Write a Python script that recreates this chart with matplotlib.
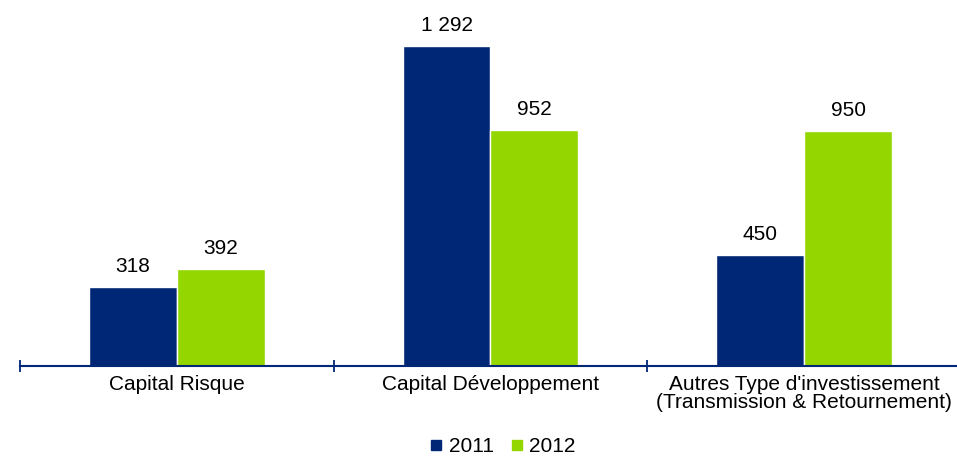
import matplotlib
matplotlib.use("Agg")
from matplotlib import pyplot as plt
from matplotlib.lines import Line2D
from numpy import arange

plt.rcParams['font.family'] = ['Liberation Sans', 'DejaVu Sans']

categories = ["Capital Risque", "Capital Développement",
              "Autres Type d'investissement\n(Transmission & Retournement)"]
series_names = ["2011", "2012"]
values_2011 = [318, 1292, 450]
values_2012 = [392, 952, 950]
value_labels_2011 = ["318", "1 292", "450"]
value_labels_2012 = ["392", "952", "950"]

blue = "#002776"
green = "#94D600"

fig = plt.figure(figsize=(9.57, 4.57), dpi=100)
ax = fig.add_axes([20 / 957, 91 / 457, 941 / 957, 366 / 457])

x = arange(len(categories))
w = 0.28
b1 = ax.bar(x - w / 2, values_2011, w, color=blue, edgecolor="white", linewidth=1)
b2 = ax.bar(x + w / 2, values_2012, w, color=green, edgecolor="white", linewidth=1)

for bars, labs in ((b1, value_labels_2011), (b2, value_labels_2012)):
    for r, lab in zip(bars, labs):
        ax.annotate(lab, (r.get_x() + r.get_width() / 2, r.get_height()),
                    xytext=(0, 10.8), textcoords="offset points",
                    ha="center", va="baseline", fontsize=15)

ax.set_xlim(-0.5, 2.5)
ax.set_ylim(0, 1479)
ax.set_xticks(x)
ax.set_xticklabels(categories, fontsize=15, linespacing=0.95)
ax.set_xticks(arange(-0.5, 3, 1), minor=True)
ax.tick_params(axis="x", which="major", length=0, pad=6.5)
ax.tick_params(axis="x", which="minor", length=8, direction="inout", color=blue, width=1.3)
ax.set_yticks([])
for s in ("top", "right", "left"):
    ax.spines[s].set_visible(False)
ax.spines["bottom"].set_color(blue)
ax.spines["bottom"].set_linewidth(1.5)

handles = [Line2D([], [], marker="s", linestyle="none", color=c, markersize=6.5)
           for c in (blue, green)]
fig.legend(handles, series_names, loc="center", bbox_to_anchor=(503 / 957, 10 / 457),
           ncol=2, frameon=False, fontsize=15, handlelength=0.6,
           handletextpad=0.3, columnspacing=0.8, borderpad=0)

fig.savefig("out.png", dpi=100)
